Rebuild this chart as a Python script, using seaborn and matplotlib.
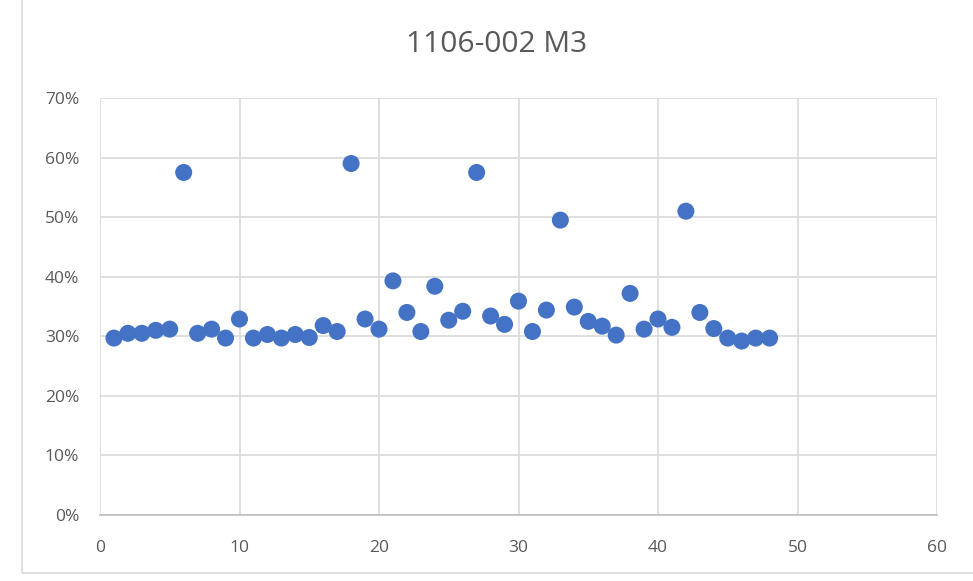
import matplotlib
matplotlib.use("Agg")
import matplotlib.pyplot as plt
import seaborn as sns
import pandas as pd
from matplotlib.ticker import PercentFormatter, MultipleLocator
from matplotlib.patches import Rectangle

x_vals = list(range(1, 49))
y_vals = [29.7, 30.5, 30.5, 31.0, 31.2, 57.5, 30.5, 31.2, 29.7, 32.9,
          29.7, 30.3, 29.7, 30.3, 29.8, 31.8, 30.8, 59.0, 32.9, 31.2,
          39.3, 34.0, 30.8, 38.4, 32.7, 34.2, 57.5, 33.4, 32.0, 35.9,
          30.8, 34.4, 49.5, 34.9, 32.5, 31.7, 30.2, 37.2, 31.2, 32.9,
          31.5, 51.0, 34.0, 31.3, 29.7, 29.2, 29.7, 29.7]
title = "1106-002 M3"

df = pd.DataFrame({"x": x_vals, "y": [v / 100 for v in y_vals]})

sns.set_theme(style="white")
plt.rcParams['font.family'] = ['Open Sans', 'DejaVu Sans']

fig = plt.figure(figsize=(9.73, 5.81), dpi=100)
ax = fig.add_axes([100/973, 1-515/581, 837/973, (515-98)/581])

sns.scatterplot(data=df, x="x", y="y", ax=ax, color="#4472C4", s=150,
                edgecolor="none", zorder=3)

ax.set_xlim(0, 60)
ax.set_ylim(0, 0.70)
ax.xaxis.set_major_locator(MultipleLocator(10))
ax.yaxis.set_major_locator(MultipleLocator(0.10))
ax.yaxis.set_major_formatter(PercentFormatter(1.0, decimals=0))
ax.grid(True, color="#D9D9D9", linewidth=1.2)
for s in ["top", "right", "left"]:
    ax.spines[s].set_visible(False)
ax.spines["bottom"].set_color("#BFBFBF")
ax.spines["bottom"].set_linewidth(1.2)
ax.tick_params(axis="both", length=0, labelsize=12.5, colors="#595959")
ax.tick_params(axis="x", pad=18)
ax.tick_params(axis="y", pad=15)
ax.set_xlabel("")
ax.set_ylabel("")

fig.text(497/973, 1-44/581, title, ha="center", va="center", fontsize=21.5, color="#595959")

fig.patches.append(Rectangle((22/973, 1-573/581), 1.2, 573/581 + 0.1,
                             transform=fig.transFigure, fill=False,
                             edgecolor="#D9D9D9", linewidth=1.2))

fig.savefig("out.png", dpi=100)
